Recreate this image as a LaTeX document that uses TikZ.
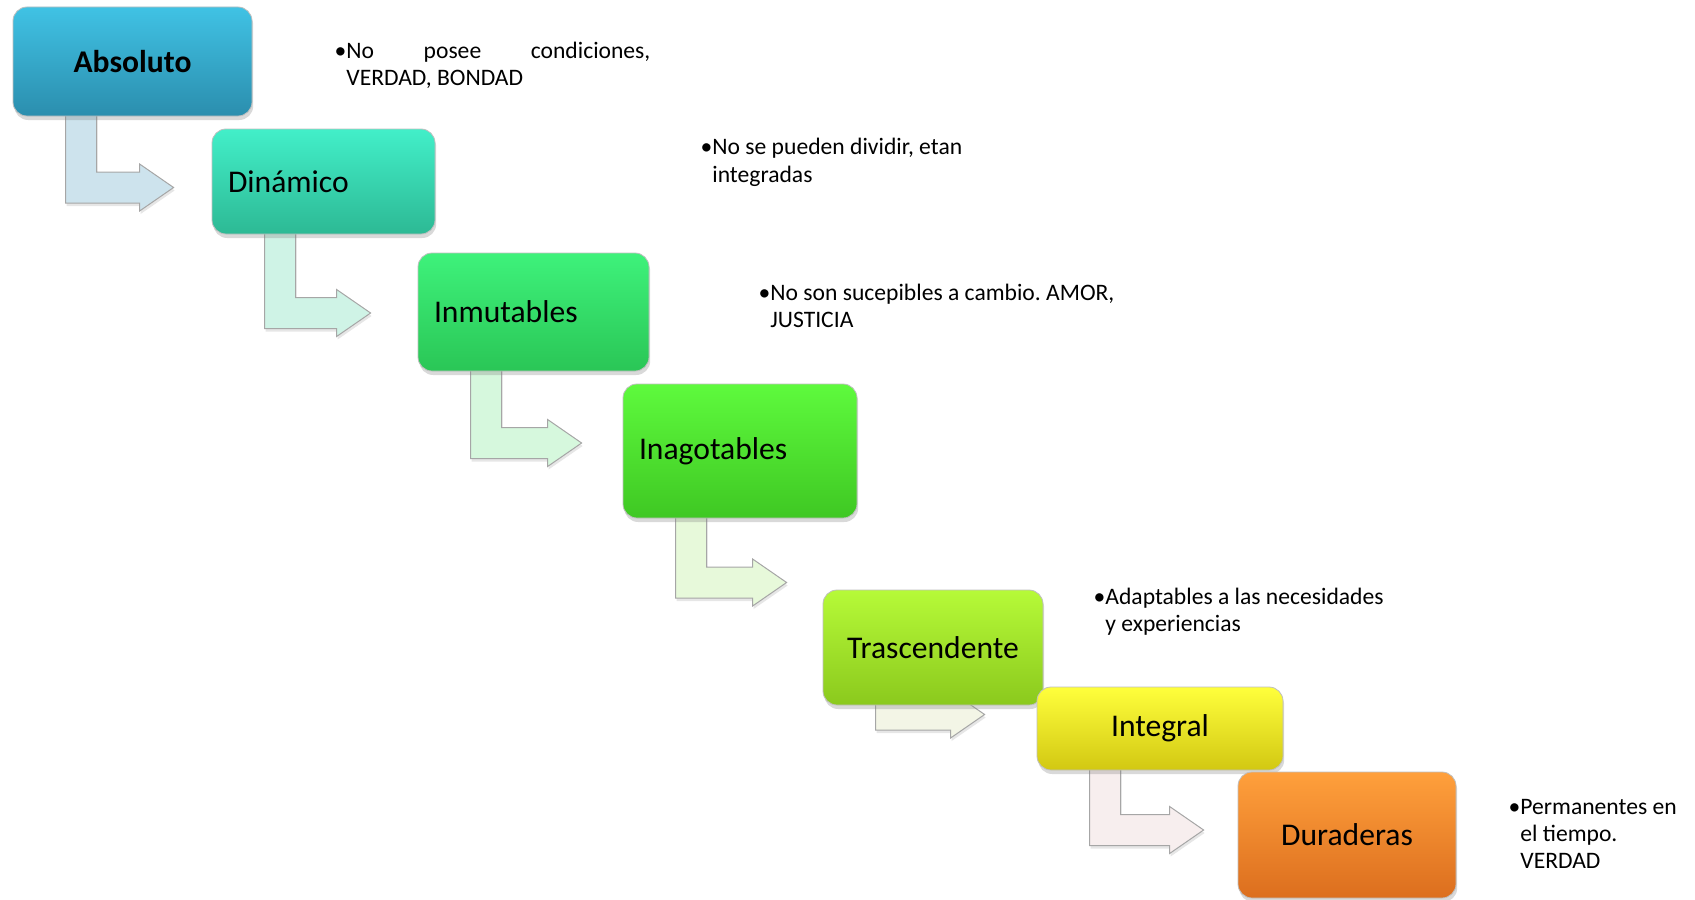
\documentclass[tikz,border=0pt]{standalone}
\usepackage{fontspec}
\setmainfont{Carlito}
\usetikzlibrary{calc,backgrounds,shadows}
\frenchspacing

\definecolor{absA}{HTML}{40C2E4}\definecolor{absB}{HTML}{2B8EAE}
\definecolor{dinA}{HTML}{42EFC9}\definecolor{dinB}{HTML}{2DB994}
\definecolor{inmA}{HTML}{3EF27B}\definecolor{inmB}{HTML}{2AC656}
\definecolor{inaA}{HTML}{5EFA3D}\definecolor{inaB}{HTML}{3FC823}
\definecolor{traA}{HTML}{B6FA38}\definecolor{traB}{HTML}{8BC91D}
\definecolor{intA}{HTML}{FFFF3C}\definecolor{intB}{HTML}{D2C812}
\definecolor{durA}{HTML}{FFA03C}\definecolor{durB}{HTML}{DC6E1E}
\definecolor{flA}{HTML}{CDE3ED}\definecolor{flB}{HTML}{CFF3E6}
\definecolor{flC}{HTML}{D6F8DD}\definecolor{flD}{HTML}{E7F9DA}
\definecolor{flE}{HTML}{F3F5E6}\definecolor{flF}{HTML}{F7EEEE}

% bent arrow from one box to the next: src, tgt, fill, tip dx, tip dy (px)
\newcommand{\bentarr}[5]{%
  \path[flecha,fill=#3] let \p1=($(#1.south west)+(53,-6)$), \p2=($(#2.west)+(#4,#5)$) in
    (\x1,\y1) -- (\x1+15.5pt,\y1) -- (\x1+15.5pt,\y2+7.75pt) -- (\x2-17pt,\y2+7.75pt)
    -- (\x2-17pt,\y2+11.75pt) -- (\x2,\y2) -- (\x2-17pt,\y2-11.75pt)
    -- (\x2-17pt,\y2-7.75pt) -- (\x1,\y2-7.75pt) -- cycle;}
\newcommand{\punto}{\leavevmode\llap{\textbullet}}

\begin{document}
\begin{tikzpicture}[x=0.5pt,y=-0.5pt,
  etapa/.style={rectangle,rounded corners=7pt,draw=black!25,line width=0.4pt,
    inner xsep=8pt,font=\fontsize{15.8}{18}\selectfont,
    drop shadow={shadow xshift=0.6pt,shadow yshift=-2pt,opacity=0.3}},
  izq/.style={align=left,text width=#1},
  flecha/.style={draw=black!35,line width=0.5pt,line join=miter,
    drop shadow={shadow xshift=0.5pt,shadow yshift=-1.5pt,opacity=0.2}},
  nota/.style={anchor=base west,inner sep=0pt,font=\fontsize{11.8}{13.5}\selectfont}]
\useasboundingbox (0,0) rectangle (1695,899);

\node[etapa,top color=absA,bottom color=absB,minimum width=119.5pt,minimum height=54.5pt,
      font=\fontsize{15.8}{18}\selectfont\bfseries] (abs) at (132.5,61.5) {Absoluto};
\node[etapa,izq=95.5pt,top color=dinA,bottom color=dinB,minimum height=52.5pt] (din) at (323.5,181.5) {Din\'amico};
\node[etapa,izq=99.5pt,top color=inmA,bottom color=inmB,minimum height=59pt] (inm) at (533.5,312) {Inmutables};
\node[etapa,izq=101pt,top color=inaA,bottom color=inaB,minimum height=67pt] (ina) at (740,451) {Inagotables};
\node[etapa,top color=traA,bottom color=traB,minimum width=110pt,minimum height=57.5pt] (tra) at (933,647.5) {Trascendente};
\node[etapa,top color=intA,bottom color=intB,minimum width=123pt,minimum height=41.5pt] (int) at (1160,728.5) {Integral};
\node[etapa,top color=durA,bottom color=durB,minimum width=109pt,minimum height=63pt] (dur) at (1347,835) {Duraderas};

\begin{pgfonlayer}{background}
\bentarr{abs}{din}{flA}{-38}{6}
\bentarr{din}{inm}{flB}{-47}{1}
\bentarr{inm}{ina}{flC}{-41}{-8}
\bentarr{ina}{tra}{flD}{-36}{-65}
\bentarr{tra}{int}{flE}{-52}{-14}
\bentarr{int}{dur}{flF}{-34}{-5}
\end{pgfonlayer}

% notas
\node[nota] (n1) at (346,59) {\parbox[t]{152pt}{\punto\makebox[152pt][s]{No posee condiciones,}\\VERDAD, BONDAD}};
\node[nota] (n2) at (712,155) {\parbox[t]{200pt}{\punto No se pueden dividir, etan\\integradas}};
\node[nota] (n3) at (770,300) {\parbox[t]{200pt}{\punto No son sucepibles a cambio. AMOR,\\JUSTICIA}};
\node[nota] (n4) at (1105,604) {\parbox[t]{200pt}{\punto Adaptables a las necesidades\\y experiencias}};
\node[nota] (n5) at (1520,814) {\parbox[t]{100pt}{\punto Permanentes en\\el tiempo.\\VERDAD}};
\end{tikzpicture}
\end{document}
